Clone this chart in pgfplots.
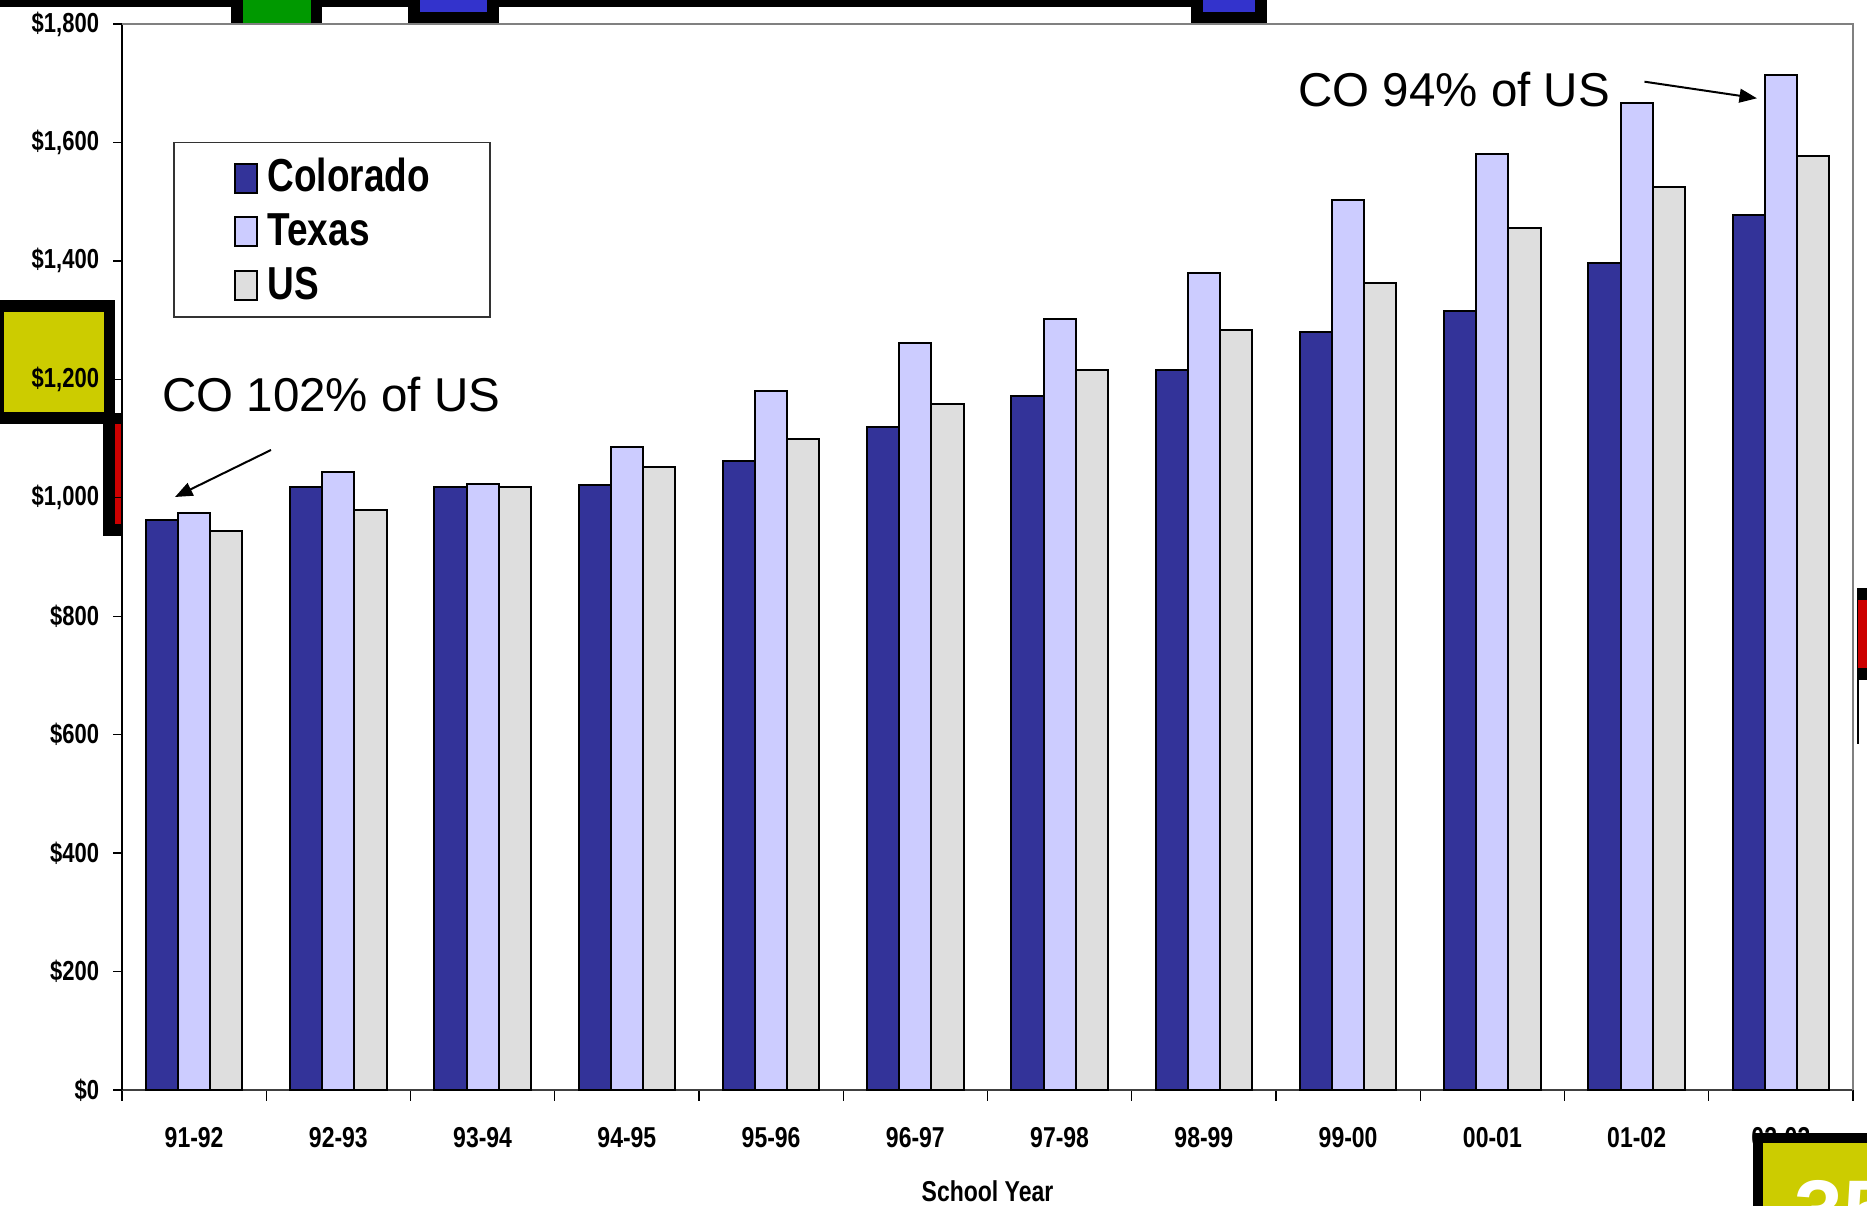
\documentclass[border=0pt]{standalone}
\usepackage{fontspec}
\setmainfont{Liberation Sans}
\newfontfamily\narb{Liberation Sans}[FakeStretch=0.8]
\usepackage{pgfplots}
\pgfplotsset{compat=1.18}
\usetikzlibrary{arrows.meta}
\definecolor{co}{RGB}{51,51,153}
\definecolor{tx}{RGB}{204,204,255}
\definecolor{us}{RGB}{222,222,222}
\definecolor{decoblue}{RGB}{51,51,204}
\definecolor{decogreen}{RGB}{0,153,0}
\definecolor{decoyellow}{RGB}{204,204,0}
\definecolor{decored}{RGB}{204,0,0}
\begin{document}
\begin{tikzpicture}
\path[use as bounding box] (0,0) rectangle (746.8pt,482.4pt);
% slide fragments around the chart (drawn behind the plot area)
\begin{scope}[x=0.4pt,y=-0.4pt,shift={(0pt,482.4pt)}]
  \fill[black] (0,0) rectangle (1267,6.7);
  \fill[black] (231,0) rectangle (322,23);
  \fill[decogreen] (243,0) rectangle (311,23);
  \fill[black] (408,0) rectangle (499,23);
  \fill[decoblue] (420,0) rectangle (487,12);
  \fill[black] (1191,0) rectangle (1267,23);
  \fill[decoblue] (1203,0) rectangle (1255,12);
  \fill[black] (0,300) rectangle (115,424);
  \fill[decoyellow] (3.6,311.7) rectangle (103.6,411.7);
  \fill[black] (103,413) rectangle (123,536);
  \fill[decored] (115,424) rectangle (123,524);
  \fill[black] (1856.7,588) rectangle (1867,680);
  \fill[decored] (1858,600) rectangle (1867,668);
  \fill[black] (1856.7,680) rectangle (1859,744);
\end{scope}
\begin{axis}[
  at={(48.8pt,46.4pt)}, anchor=south west,
  scale only axis, width=692.4pt, height=426.4pt,
  clip=false,
  axis background/.style={fill=white},
  ybar=0pt, bar width=12.85pt,
  xmin=-0.5, xmax=11.5, ymin=0, ymax=1800,
  axis x line*=bottom, axis y line*=left,
  x axis line style={black!75, line width=0.8pt},
  y axis line style={black, line width=0.6pt},
  xtick={0,...,11},
  xticklabels={91-92,92-93,93-94,94-95,95-96,96-97,97-98,98-99,99-00,00-01,01-02,02-03},
  minor xtick={-0.5,0.5,...,11.5},
  ytick={0,200,...,1800},
  yticklabels={\$0,\$200,\$400,\$600,\$800,{\$1,000},{\$1,200},{\$1,400},{\$1,600},{\$1,800}},
  tick align=outside,
  major tick length=3.4pt, minor tick length=4.3pt,
  major x tick style={draw=none},
  minor x tick style={black, line width=0.5pt},
  major y tick style={black, line width=0.5pt},
  xticklabel style={font=\narb\bfseries\fontsize{11.5}{13}\selectfont, anchor=north, inner sep=0pt, yshift=-11.5pt},
  yticklabel style={font=\narb\bfseries\fontsize{11}{13}\selectfont, anchor=east, inner sep=0pt, xshift=-5.6pt},
  xlabel={School Year},
  xlabel style={font=\narb\bfseries\fontsize{11.5}{13}\selectfont, at={(axis description cs:0.5,0)}, anchor=north, inner sep=0pt, yshift=-36pt},
  legend image code/.code={\draw[#1] (0pt,-7.1pt) rectangle (8.7pt,4.5pt);},
  legend style={at={(axis description cs:0.0297,0.8895)}, anchor=north west,
    draw=black!80, line width=0.5pt, fill=white,
    inner xsep=24pt, inner ysep=6.3pt, row sep=7.4pt,
    font=\narb\bfseries\fontsize{18.5}{20}\selectfont,
    nodes={inner sep=0pt, text height=13.3pt, text depth=0pt},
    /tikz/every odd column/.append style={column sep=3.9pt}},
  legend cell align=left,
]
\addplot[fill=co, draw=black, line width=0.8pt] coordinates {
 (0,962) (1,1018) (2,1018) (3,1022) (4,1062) (5,1120) (6,1172) (7,1215) (8,1280) (9,1315) (10,1397) (11,1478)};
\addlegendentry{Colorado}
\addplot[fill=tx, draw=black, line width=0.8pt] coordinates {
 (0,975) (1,1044) (2,1023) (3,1086) (4,1181) (5,1261) (6,1302) (7,1379) (8,1503) (9,1581) (10,1667) (11,1714)};
\addlegendentry{Texas}
\addplot[fill=us, draw=black, line width=0.8pt] coordinates {
 (0,944) (1,980) (2,1018) (3,1052) (4,1099) (5,1158) (6,1215) (7,1284) (8,1362) (9,1456) (10,1525) (11,1577)};
\addlegendentry{US}
\draw[black!50, line width=0.8pt] (rel axis cs:0,1) -- (rel axis cs:1,1) -- (rel axis cs:1,0);
\end{axis}
\begin{scope}[x=0.4pt,y=-0.4pt,shift={(0pt,482.4pt)}]
  \node[anchor=base west, inner sep=0pt, font=\fontsize{19}{22}\selectfont] at (161.7,411.7) {CO 102\% of US};
  \node[anchor=base west, inner sep=0pt, font=\fontsize{19}{22}\selectfont] at (1298,106.7) {CO 94\% of US};
  \draw[line width=0.8pt, -{Triangle[length=7pt,width=5.5pt]}] (271,450) -- (175,497);
  \draw[line width=0.8pt, -{Triangle[length=7pt,width=5.5pt]}] (1644.5,81.7) -- (1757,98.3);
  \fill[black] (1753,1132.7) rectangle (1867,1206);
  \fill[decoyellow] (1763,1143) rectangle (1867,1206);
  \node[anchor=north west, inner sep=0pt, text=white, font=\bfseries\fontsize{35}{40}\selectfont] at (1794,1180) {35};
\end{scope}
\end{tikzpicture}
\end{document}
